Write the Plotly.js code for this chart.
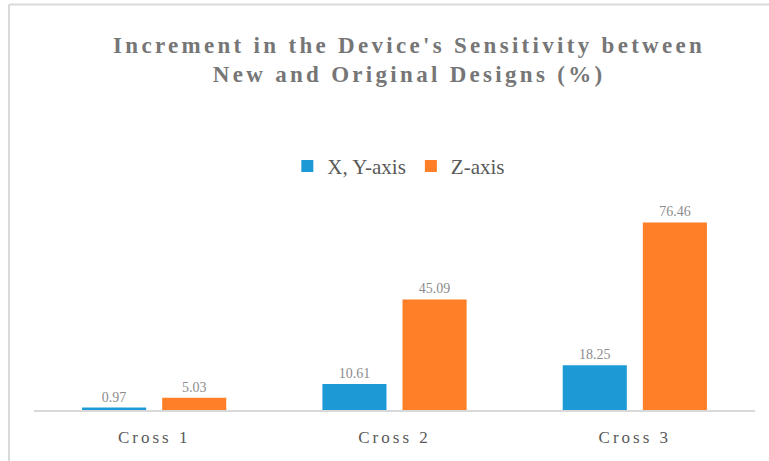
<!DOCTYPE html>
<html>
<head>
<meta charset="utf-8">
<script src="https://cdn.plot.ly/plotly-3.0.1.min.js"></script>
<style>
  html, body { margin: 0; padding: 0; background: #fff; }
  #chart { width: 769px; height: 461px; }
  .gtitle { letter-spacing: 3.3px; }
  .xtick text { letter-spacing: 3px; }
</style>
</head>
<body>
<div id="chart"></div>
<script>
const categories = ["Cross 1", "Cross 2", "Cross 3"];
const seriesNames = ["X, Y-axis", "Z-axis"];
const xyValues = [0.97, 10.61, 18.25];
const zValues = [5.03, 45.09, 76.46];
const xyLabels = ["0.97", "10.61", "18.25"];
const zLabels = ["5.03", "45.09", "76.46"];

const serif = "'Liberation Serif', 'DejaVu Serif', serif";
const labelFont = { family: serif, size: 14, color: "#8c8c8c" };

const traces = [
  {
    type: "bar", name: seriesNames[0], x: categories, y: xyValues,
    text: xyLabels, textposition: "outside", cliponaxis: false,
    textfont: labelFont, marker: { color: "#1c9ad6" }, hoverinfo: "none"
  },
  {
    type: "bar", name: seriesNames[1], x: categories, y: zValues,
    text: zLabels, textposition: "outside", cliponaxis: false,
    textfont: labelFont, marker: { color: "#fe7f27" }, hoverinfo: "none"
  }
];

const layout = {
  width: 769, height: 461,
  margin: { l: 34, r: 14, t: 190, b: 51 },
  paper_bgcolor: "#ffffff", plot_bgcolor: "#ffffff",
  barmode: "group", bargap: 0.3333, bargroupgap: 0.2,
  title: {
    text: "<b>Increment in the Device's Sensitivity between<br>New and Original Designs (%)</b>",
    font: { family: serif, size: 23, color: "#767676" },
    x: 0.532, xanchor: "center", y: 0.886, yanchor: "middle"
  },
  showlegend: true,
  legend: {
    orientation: "h", x: 0.506, xanchor: "center", y: 1.107, yanchor: "middle",
    font: { family: serif, size: 21, color: "#595959" },
    itemwidth: 30, traceorder: "normal"
  },
  xaxis: {
    showline: true, linecolor: "#d9d9d9", linewidth: 2,
    ticks: "", showgrid: false, zeroline: false,
    tickfont: { family: serif, size: 17, color: "#595959" },
    ticklabelstandoff: 11
  },
  yaxis: {
    range: [0, 89.7], visible: false, showgrid: false, zeroline: false
  },
  shapes: [
    { type: "line", xref: "paper", yref: "paper",
      x0: -0.0347, x1: -0.0347, y0: -0.3, y1: 1.843,
      line: { color: "#d9d9d9", width: 2 } },
    { type: "line", xref: "paper", yref: "paper",
      x0: -0.0347, x1: 1.03, y0: 1.843, y1: 1.843,
      line: { color: "#d9d9d9", width: 2 } }
  ]
};

Plotly.newPlot("chart", traces, layout, { displayModeBar: false, staticPlot: true });
</script>
</body>
</html>
